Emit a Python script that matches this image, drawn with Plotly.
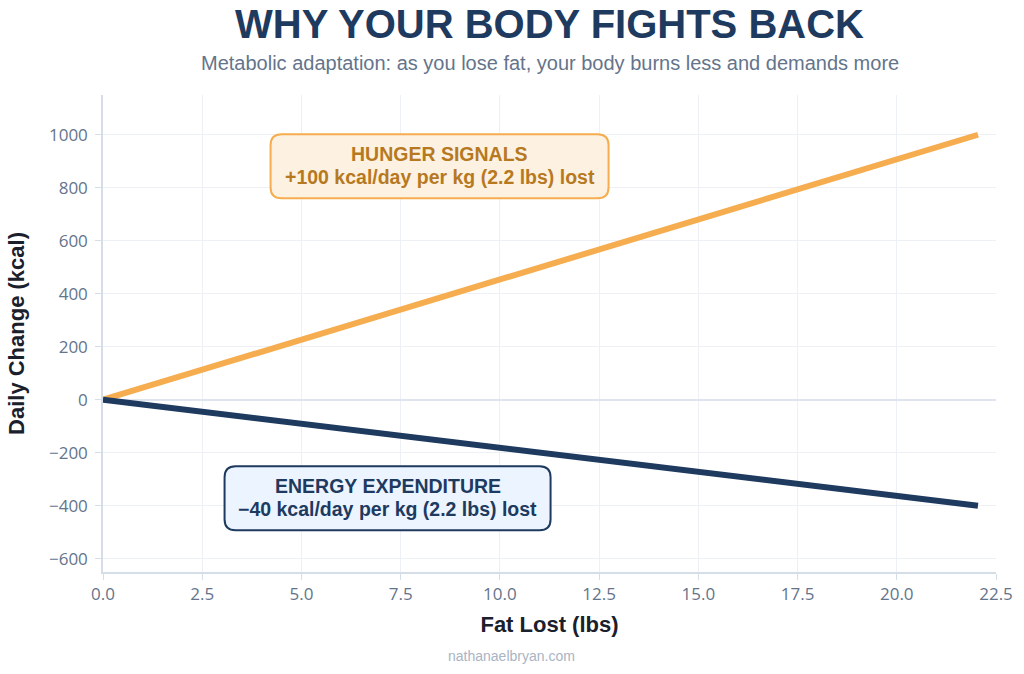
import plotly.graph_objects as go

# ---- data ----
fat_lost_lbs = [0, 22.046]
hunger_kcal = [0, 1000]
expenditure_kcal = [0, -400]

x_ticks = [0, 2.5, 5, 7.5, 10, 12.5, 15, 17.5, 20, 22.5]
y_ticks = [-600, -400, -200, 0, 200, 400, 600, 800, 1000]

title_text = "WHY YOUR BODY FIGHTS BACK"
subtitle_text = "Metabolic adaptation: as you lose fat, your body burns less and demands more"
hunger_lines = ["HUNGER SIGNALS", "+100 kcal/day per kg (2.2 lbs) lost"]
energy_lines = ["ENERGY EXPENDITURE", "−40 kcal/day per kg (2.2 lbs) lost"]
hunger_pos = (8.48, 881)
energy_pos = (7.17, -372)

ORANGE = "#f6ad4f"
NAVY = "#1e3a5f"
SANS = "Liberation Sans, Arial, sans-serif"
TICKF = "Open Sans, sans-serif"

fig = go.Figure()
fig.add_trace(go.Scatter(x=fat_lost_lbs, y=hunger_kcal, mode="lines",
                         line=dict(color=ORANGE, width=6), showlegend=False,
                         name="Hunger"))
fig.add_trace(go.Scatter(x=fat_lost_lbs, y=expenditure_kcal, mode="lines",
                         line=dict(color=NAVY, width=6), showlegend=False,
                         name="Energy expenditure"))


def rounded_rect(w, h, r):
    hw, hh = w / 2, h / 2
    return (f"M {-hw + r},{-hh} L {hw - r},{-hh} Q {hw},{-hh} {hw},{-hh + r} "
            f"L {hw},{hh - r} Q {hw},{hh} {hw - r},{hh} L {-hw + r},{hh} "
            f"Q {-hw},{hh} {-hw},{hh - r} L {-hw},{-hh + r} Q {-hw},{-hh} {-hw + r},{-hh} Z")


for (cx, cy), lines, w, h, fill, border, tcolor in [
    (hunger_pos, hunger_lines, 338, 64, "#fdf1e1", ORANGE, "#b7791f"),
    (energy_pos, energy_lines, 326, 64, "#ebf4ff", NAVY, NAVY),
]:
    fig.add_shape(type="path", xref="x", yref="y", xsizemode="pixel", ysizemode="pixel",
                  xanchor=cx, yanchor=cy, path=rounded_rect(w, h, 11),
                  fillcolor=fill, line=dict(color=border, width=2), layer="above")
    for txt, shift in zip(lines, [12, -11]):
        fig.add_annotation(x=cx, y=cy, yshift=shift, text=f"<b>{txt}</b>", showarrow=False,
                           font=dict(family=SANS, size=19.5, color=tcolor), align="center",
                           yanchor="middle")

# title / subtitle / watermark
fig.add_annotation(x=0.5, y=1, xref="paper", yref="paper", yshift=71, text=f"<b>{title_text}</b>",
                   showarrow=False, font=dict(family=SANS, size=40, color=NAVY), yanchor="middle")
fig.add_annotation(x=0.5, y=1, xref="paper", yref="paper", yshift=32, text=subtitle_text,
                   showarrow=False, font=dict(family=SANS, size=20, color="#64748b"), yanchor="middle")
fig.add_annotation(x=0.458, y=-0.176, xref="paper", yref="paper", xanchor="center", yanchor="middle",
                   text="nathanaelbryan.com",
                   showarrow=False, font=dict(family=SANS, size=14, color="#a9b4c4"))

fig.update_xaxes(range=[0, 22.5], tickvals=x_ticks, ticktext=[f"{v:.1f}" for v in x_ticks],
                 showgrid=True, gridcolor="#edf1f6", gridwidth=1,
                 showline=True, linecolor="#d5dde8", linewidth=1.5,
                 ticks="outside", tickcolor="#d5dde8", ticklen=6,
                 zeroline=False,
                 tickfont=dict(family=TICKF, size=17, color="#64748b"),
                 title=dict(text="<b>Fat Lost (lbs)</b>", font=dict(family=SANS, size=22, color="#1a202c"),
                            standoff=12))
fig.update_yaxes(range=[-650, 1150], tickvals=y_ticks,
                 ticktext=[("−" + str(abs(v))) if v < 0 else str(v) for v in y_ticks],
                 showgrid=True, gridcolor="#edf1f6", gridwidth=1,
                 showline=True, linecolor="#d5dde8", linewidth=1.5,
                 ticks="outside", tickcolor="#d5dde8", ticklen=6, ticklabelstandoff=4,
                 zeroline=True, zerolinecolor="#dfe5ee", zerolinewidth=2,
                 tickfont=dict(family=TICKF, size=17, color="#64748b"),
                 title=dict(text="<b>Daily Change (kcal)</b>", font=dict(family=SANS, size=22, color="#1a202c"),
                            standoff=18))

fig.update_layout(width=1024, height=674, autosize=False,
                  margin=dict(l=103, r=28, t=95, b=102),
                  paper_bgcolor="white", plot_bgcolor="white",
                  font=dict(family=SANS))

fig.write_html("out.html")
